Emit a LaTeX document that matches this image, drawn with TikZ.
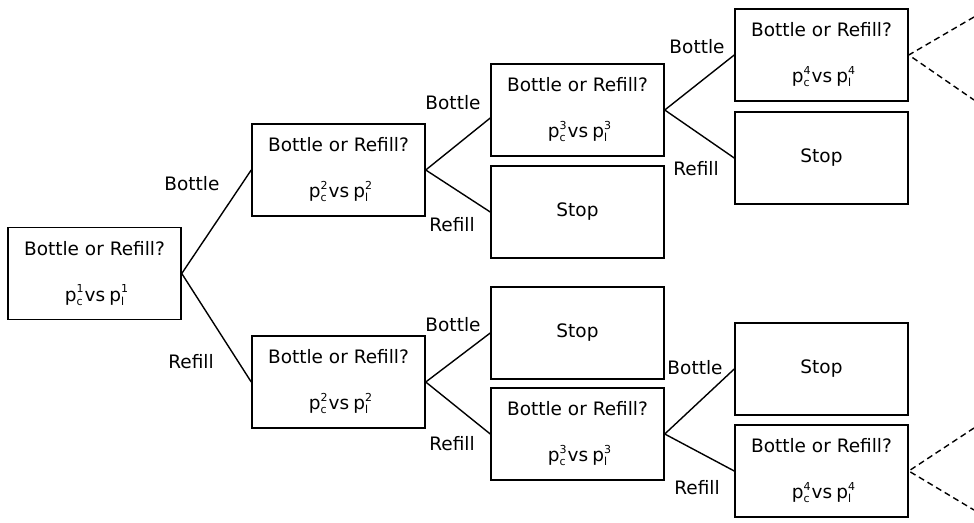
\documentclass[tikz,border=0pt]{standalone}
\usepackage{fontspec}
\setmainfont{DejaVu Sans}
\newcommand\sm{\fontsize{11}{11}\selectfont}
\newcommand\stk[2]{\rlap{\raisebox{0.85ex}{\sm #2}}\raisebox{-0.4ex}{\sm #1}}
\newcommand\pline[1]{p\stk{c}{#1}\hspace{2pt}vs\hspace{4pt}p\stk{l}{#1}}
\tikzset{
  box/.style={draw, line width=1.5pt, minimum width=173pt, minimum height=92pt, align=center, inner sep=0pt, font=\fontsize{18.5}{21}\selectfont},
  lbl/.style={font=\fontsize{18.5}{21}\selectfont, inner sep=0pt},
  conn/.style={line width=1.4pt},
  dashline/.style={line width=1.4pt, dash pattern=on 6pt off 4pt}
}
\begin{document}
\begin{tikzpicture}[x=1pt,y=-1pt]
\useasboundingbox (0,0) rectangle (974,522);
\newcommand\br[1]{Bottle or Refill?\\[25pt]\pline{#1}}
\node[box] (a) at (94.5,273.5) {\br{1}};
\node[box] (b1) at (338.5,170) {\br{2}};
\node[box] (b2) at (338.5,382) {\br{2}};
\node[box] (c1) at (577.5,110) {\br{3}};
\node[box] (c2) at (577.5,212) {Stop};
\node[box] (c3) at (577.5,333) {Stop};
\node[box] (c4) at (577.5,434) {\br{3}};
\node[box] (d1) at (821.5,55) {\br{4}};
\node[box] (d2) at (821.5,158) {Stop};
\node[box] (d3) at (821.5,369) {Stop};
\node[box] (d4) at (821.5,471) {\br{4}};
\draw[conn] (b1.west) -- (a.east) -- (b2.west);
\draw[conn] ([yshift=-8pt]c1.west) -- (b1.east) -- (c2.west);
\draw[conn] (c3.west) -- (b2.east) -- (c4.west);
\draw[conn] (d1.west) -- (c1.east) -- (d2.west);
\draw[conn] (d3.west) -- (c4.east) -- (d4.west);
\coordinate (e1) at (974,17);
\coordinate (e2) at (974,100);
\coordinate (e3) at (974,428);
\coordinate (e4) at (974,510);
\draw[dashline] (e1) -- (d1.east) -- (e2);
\draw[dashline] (e3) -- (d4.east) -- (e4);
\node[lbl] (l1) at (192,184) {Bottle};
\node[lbl] (l2) at (191,362) {Refill};
\node[lbl] (l3) at (453,103) {Bottle};
\node[lbl] (l4) at (452,225) {Refill};
\node[lbl] (l5) at (697,47) {Bottle};
\node[lbl] (l6) at (696,169) {Refill};
\node[lbl] (l7) at (453,325) {Bottle};
\node[lbl] (l8) at (452,444) {Refill};
\node[lbl] (l9) at (695,368) {Bottle};
\node[lbl] (l10) at (697,488) {Refill};
\end{tikzpicture}
\end{document}
